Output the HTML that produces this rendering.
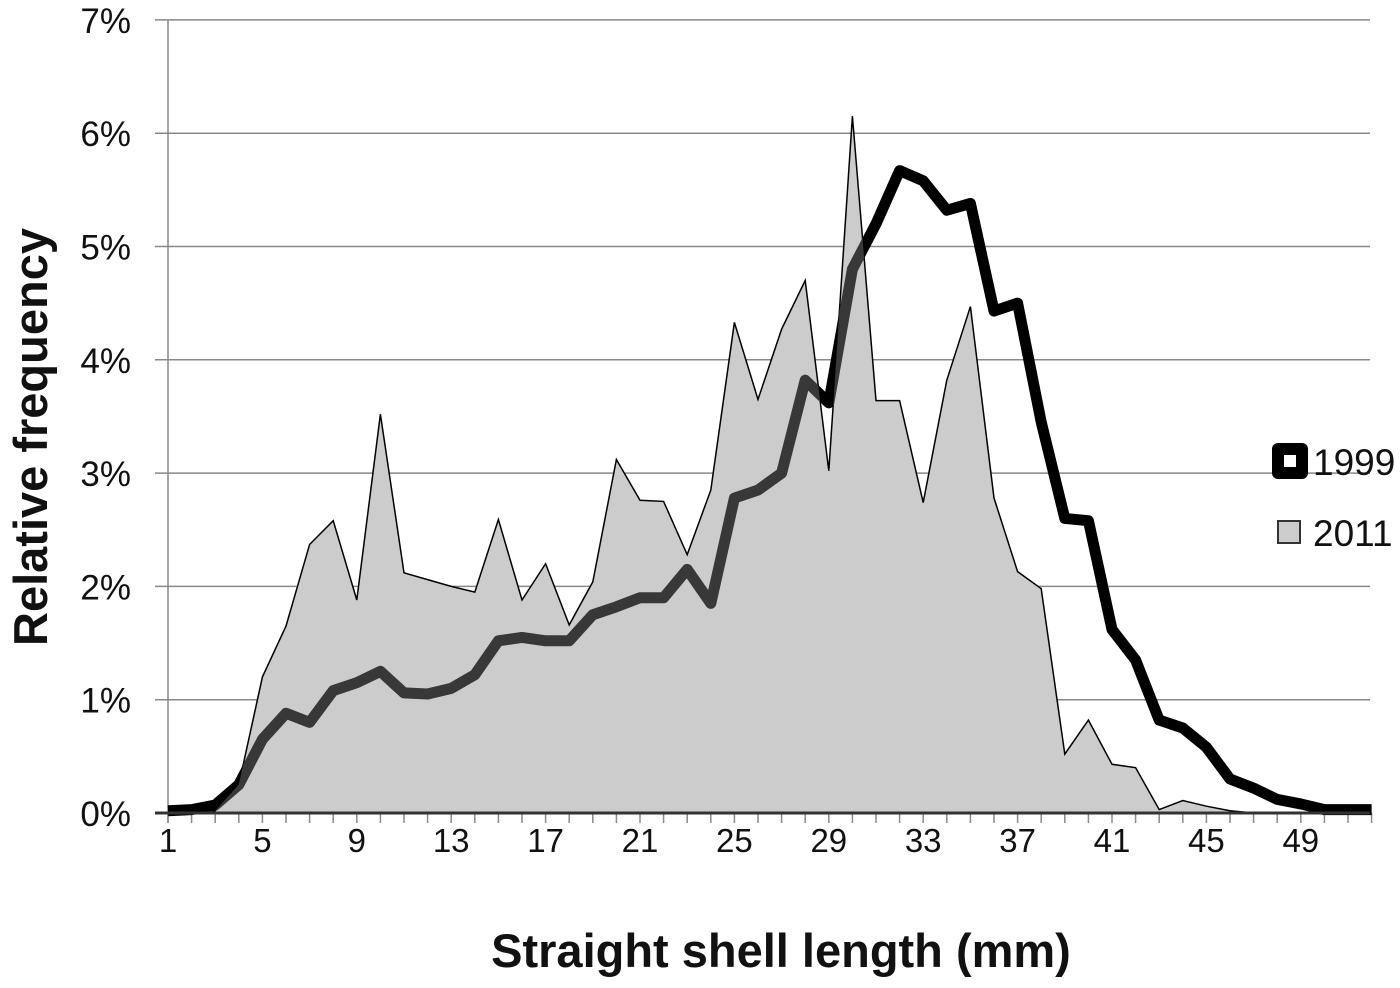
<!DOCTYPE html>
<html><head><meta charset="utf-8"><style>
body{margin:0;background:#fff;font-family:"Liberation Sans",sans-serif;}
svg text{font-family:"Liberation Sans",sans-serif;}
</style></head><body>
<svg id="chart" width="1400" height="983" viewBox="0 0 1400 983" xmlns="http://www.w3.org/2000/svg">
<defs><clipPath id="areaClip"><path id="clipPath"/></clipPath></defs>
<g id="grid"></g>
<g id="yticks"></g>
<g id="xticks"></g>
<g id="plot"></g>
<text x="781" y="967" text-anchor="middle" font-size="47" font-weight="bold" fill="#111">Straight shell length (mm)</text>
<text transform="translate(47,437) rotate(-90)" text-anchor="middle" font-size="47" font-weight="bold" fill="#111">Relative frequency</text>
<g>
<g>
<rect x="1272" y="443" width="36" height="36" rx="6" fill="#000"/>
<rect x="1284" y="455" width="12" height="12" fill="#fff"/>
<text x="1313" y="475" font-size="37" fill="#111">1999</text></g>
<g>
<rect x="1278" y="521" width="22" height="22" fill="#ccc" stroke="#333" stroke-width="2"/>
<text x="1313" y="546" font-size="37" fill="#111">2011</text></g>
</g>
</svg>
<script>
const categories = [];
for (let c = 1; c <= 52; c++) categories.push(c);
const series1999 = [0.02,0.03,0.07,0.25,0.65,0.88,0.8,1.08,1.15,1.25,1.06,1.05,1.1,1.22,1.52,1.55,1.52,1.52,1.75,1.82,1.9,1.9,2.15,1.85,2.78,2.85,3.0,3.82,3.62,4.8,5.2,5.67,5.58,5.32,5.38,4.43,4.5,3.45,2.6,2.58,1.62,1.35,0.82,0.75,0.58,0.3,0.22,0.12,0.08,0.03,0.03,0.03];
const series2011 = [0,0,0.02,0.25,1.2,1.65,2.37,2.58,1.88,3.52,2.12,2.06,2.0,1.95,2.59,1.88,2.2,1.66,2.04,3.12,2.76,2.75,2.28,2.85,4.33,3.65,4.27,4.7,3.02,6.15,3.64,3.64,2.74,3.82,4.47,2.78,2.13,1.98,0.52,0.82,0.43,0.40,0.03,0.11,0.06,0.02,0,0,0,0,0,0];
const yTicks = [0,1,2,3,4,5,6,7];
const xTickLabels = [1,5,9,13,17,21,25,29,33,37,41,45,49];

const NS = "http://www.w3.org/2000/svg";
const x0 = 168, step = 23.6, y0 = 813, yUnit = 113.3;
const xs = c => x0 + (c - 1) * step;
const ys = v => y0 - v * yUnit;
function mk(tag, attrs, parent){const e=document.createElementNS(NS,tag);for(const k in attrs)e.setAttribute(k,attrs[k]);parent.appendChild(e);return e;}

const grid = document.getElementById('grid'), yt = document.getElementById('yticks'), xt = document.getElementById('xticks'), plot = document.getElementById('plot');
yTicks.forEach(t => {
  const l = mk('line',{x1:155,x2:1370,y1:ys(t),y2:ys(t),stroke:'#888','stroke-width':1.5},grid);
  
  
  const tx = mk('text',{x:131,y:ys(t)+13,'text-anchor':'end','font-size':35,fill:'#111'},yt);
  tx.textContent = t + '%';
  
  
});
mk('line',{x1:x0,x2:x0,y1:ys(7),y2:y0+10,stroke:'#888','stroke-width':1.5},grid);
categories.forEach(c => { mk('line',{x1:xs(c),x2:xs(c),y1:y0,y2:y0+10,stroke:'#888','stroke-width':1.5},grid); });
xTickLabels.forEach(c => {
  const tx = mk('text',{x:xs(c),y:852,'text-anchor':'middle','font-size':33,fill:'#111'},xt);
  tx.textContent = c;
  
  
});

const areaD = 'M' + xs(categories[0]) + ',' + y0 + ' ' + series2011.map((v,i)=>'L'+xs(categories[i])+','+ys(v)).join(' ') + ' L' + xs(categories[categories.length-1]) + ',' + y0 + ' Z';
document.getElementById('clipPath').setAttribute('d', areaD);
const lineD = series1999.map((v,i)=>(i?'L':'M')+xs(categories[i])+','+ys(v)).join(' ');

const line1 = mk('path',{d:lineD,fill:'none',stroke:'#000','stroke-width':11,'stroke-linejoin':'round'},plot);


const area = mk('path',{d:areaD,fill:'#cccccc',stroke:'#000','stroke-width':1.5},plot);


const line2 = mk('path',{d:lineD,fill:'none',stroke:'#383838','stroke-width':11,'stroke-linejoin':'round','clip-path':'url(#areaClip)'},plot);


mk('line',{x1:155,x2:1370,y1:y0,y2:y0,stroke:'#333','stroke-width':3},plot);
</script>
</body></html>
